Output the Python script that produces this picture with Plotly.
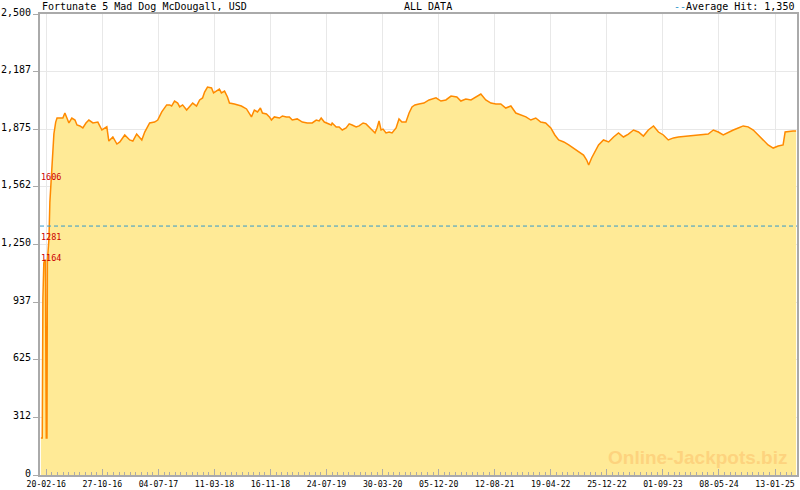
import datetime as dt
import plotly.graph_objects as go

START = dt.date(2016, 2, 20)

# days since 20-02-16 and jackpot value (USD)
day_offsets = [-24, -18, -15, -11, -7, -4, 0, 3, 5, 8, 12, 16, 21, 25, 30, 34, 42, 48, 61, 74, 83, 92, 101, 114,
               128, 137, 150, 163, 177, 190, 208, 230, 248, 270, 279, 297, 315, 328, 350, 372, 386, 403, 426,
               439, 461, 483, 497, 515, 537, 550, 559, 572, 586, 595, 608, 626, 639, 653, 670, 684, 697, 706,
               719, 737, 746, 759, 772, 781, 795, 808, 817, 839, 870, 893, 906, 915, 928, 942, 955, 964, 982,
               995, 1004, 1017, 1040, 1053, 1071, 1084, 1097, 1119, 1142, 1164, 1186, 1204, 1217, 1226, 1240,
               1253, 1271, 1275, 1293, 1306, 1320, 1337, 1351, 1364, 1382, 1395, 1413, 1426, 1440, 1453, 1466,
               1475, 1484, 1493, 1502, 1515, 1529, 1542, 1560, 1573, 1586, 1604, 1618, 1631, 1644, 1662, 1684,
               1707, 1738, 1760, 1782, 1805, 1831, 1849, 1871, 1894, 1916, 1938, 1960, 1983, 2005, 2027, 2049,
               2072, 2094, 2116, 2139, 2161, 2183, 2205, 2227, 2250, 2268, 2285, 2308, 2330, 2352, 2374, 2396,
               2410, 2419, 2432, 2450, 2463, 2485, 2508, 2530, 2552, 2574, 2596, 2619, 2641, 2663, 2685, 2708,
               2730, 2752, 2774, 2797, 2819, 2863, 2908, 2952, 2975, 2997, 3019, 3042, 3064, 3086, 3108, 3130,
               3153, 3175, 3197, 3219, 3242, 3264, 3286, 3295, 3330, 3344]
values = [200, 200, 960, 1150, 1164, 1164, 200, 200, 1164, 1210, 1281, 1480, 1606, 1700, 1817, 1850, 1914, 1936,
          1936, 1936, 1963, 1936, 1909, 1936, 1925, 1898, 1893, 1882, 1909, 1925, 1909, 1914, 1871, 1888, 1811,
          1833, 1795, 1806, 1844, 1817, 1811, 1849, 1817, 1860, 1909, 1914, 1925, 1969, 2007, 2007, 2001, 2028,
          2017, 1996, 2007, 1979, 1996, 2017, 2001, 2034, 2045, 2077, 2104, 2099, 2072, 2082, 2093, 2072, 2082,
          2050, 2017, 2012, 2001, 1985, 1963, 1942, 1979, 1969, 1990, 1963, 1958, 1942, 1925, 1942, 1936, 1947,
          1942, 1942, 1925, 1931, 1914, 1909, 1909, 1925, 1920, 1936, 1914, 1909, 1898, 1909, 1887, 1887, 1871,
          1882, 1904, 1898, 1887, 1893, 1909, 1904, 1887, 1876, 1855, 1882, 1920, 1871, 1876, 1855, 1860, 1855,
          1882, 1931, 1914, 1914, 1963, 1996, 2007, 2012, 2017, 2034, 2045, 2028, 2034, 2055, 2050, 2028, 2039,
          2034, 2050, 2066, 2034, 2017, 2012, 2012, 1990, 2001, 1963, 1952, 1942, 1925, 1936, 1914, 1909, 1882,
          1844, 1817, 1806, 1790, 1773, 1752, 1735, 1708, 1681, 1719, 1762, 1790, 1817, 1806, 1833, 1855, 1833,
          1849, 1871, 1860, 1838, 1871, 1893, 1860, 1844, 1817, 1828, 1833, 1838, 1844, 1849, 1871, 1860, 1844,
          1860, 1871, 1882, 1893, 1888, 1871, 1844, 1817, 1790, 1773, 1784, 1790, 1860, 1865, 1865]

marked_values = [1606, 1281, 1164]
marked_day = 21
average_hit = 1350

y_tick_vals = [0, 312.5, 625, 937.5, 1250, 1562.5, 1875, 2187.5, 2500]
y_tick_text = ["0", "312", "625", "937", "1,250", "1,562", "1,875", "2,187", "2,500"]

title_text = "Fortunate 5 Mad Dog McDougall, USD"
center_text = "ALL DATA"
legend_text = "Average Hit: 1,350"
watermark = "Online-Jackpots.biz"

dates = [START + dt.timedelta(days=d) for d in day_offsets]
DAY_MS = 86400000
MONO = "DejaVu Sans Mono"

fig = go.Figure()
fig.add_trace(go.Scatter(
    x=dates, y=values, mode="lines", fill="tozeroy",
    fillcolor="#FFEA96", line=dict(color="#FF8A00", width=1.5),
    hoverinfo="skip", showlegend=False))

fig.add_shape(type="line", xref="paper", x0=0, x1=1, yref="y", y0=average_hit, y1=average_hit,
              line=dict(color="#3399CC", width=1, dash="4px,3px"))

mdate = START + dt.timedelta(days=marked_day)
for v in marked_values:
    fig.add_annotation(x=mdate, y=v, text=str(v), showarrow=False, xanchor="center", yanchor="middle",
                       yshift=2, font=dict(family=MONO, size=8.5, color="#CC0000"))

fig.add_annotation(xref="paper", yref="paper", x=0, y=1, xanchor="left", yanchor="bottom",
                   text=title_text, showarrow=False, font=dict(family=MONO, size=10, color="#000"))
fig.add_annotation(xref="paper", yref="paper", x=0.5125, y=1, xanchor="center", yanchor="bottom",
                   text=center_text, showarrow=False, font=dict(family=MONO, size=10, color="#000"))
fig.add_annotation(xref="paper", yref="paper", x=0.999, y=1, xanchor="right", yanchor="bottom",
                   text="<span style='color:#3399CC'>--</span>" + legend_text, showarrow=False,
                   font=dict(family=MONO, size=10, color="#000"))
fig.add_annotation(xref="paper", yref="paper", x=0.868, y=0.037, xanchor="center", yanchor="middle",
                   text="<b>" + watermark + "</b>", showarrow=False,
                   font=dict(family="Liberation Sans", size=19, color="#FDD37E"))

fig.update_layout(
    width=800, height=490,
    margin=dict(l=40, r=1, t=14, b=15),
    paper_bgcolor="white", plot_bgcolor="white",
    font=dict(family=MONO, size=10, color="#000"),
)
fig.update_xaxes(
    type="date", range=[START - dt.timedelta(days=28), START + dt.timedelta(days=3348)],
    tick0=START.isoformat(), dtick=250 * DAY_MS, tickformat="%d-%m-%y",
    ticks="inside", ticklen=6, tickcolor="#AAAAAA",
    tickfont=dict(family=MONO, size=8.2, color="#000"),
    showgrid=True, gridcolor="#E8E8E8", gridwidth=1,
    showline=True, linecolor="#AAAAAA", linewidth=2, mirror=True,
    minor=dict(tick0=START.isoformat(), dtick=25 * DAY_MS, ticks="inside", ticklen=3,
               tickcolor="#AAAAAA", showgrid=False),
    zeroline=False, fixedrange=True,
)
fig.update_yaxes(
    range=[0, 2500], tickvals=y_tick_vals, ticktext=y_tick_text,
    ticks="outside", ticklen=5, tickcolor="#AAAAAA", ticklabelshift=-2,
    tickfont=dict(family=MONO, size=10, color="#000"),
    showgrid=True, gridcolor="#E8E8E8", gridwidth=1,
    showline=True, linecolor="#AAAAAA", linewidth=2, mirror=True,
    zeroline=False, fixedrange=True,
)

fig.write_html("out.html", config={"displayModeBar": False, "staticPlot": True},
               post_script="document.body.style.margin='0';document.body.style.overflow='hidden';")
